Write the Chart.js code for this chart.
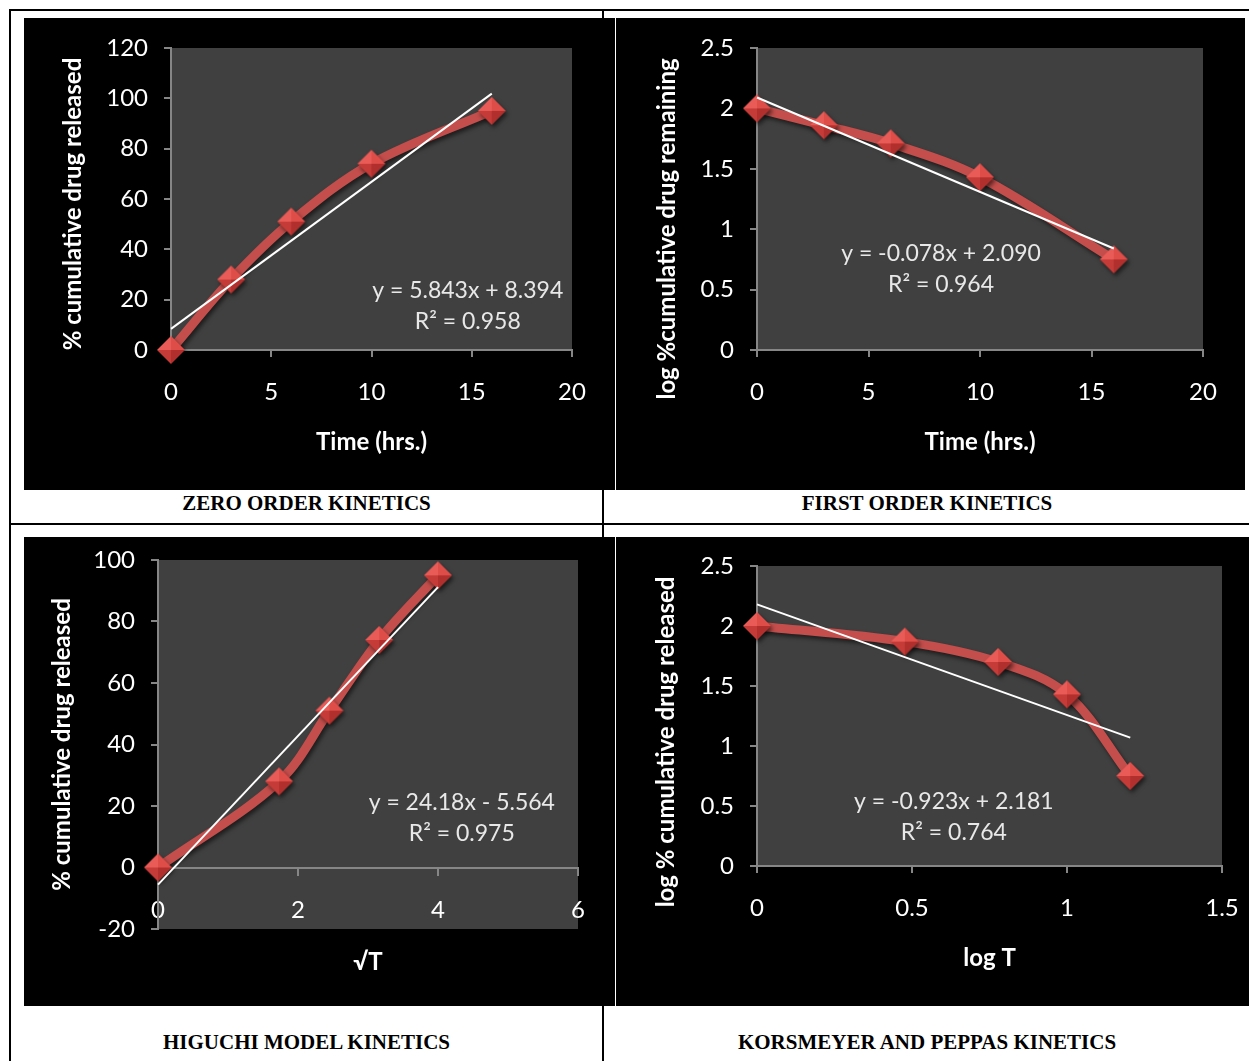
<!DOCTYPE html>
<html>
<head>
<meta charset="utf-8">
<script src="https://cdn.jsdelivr.net/npm/chart.js@4.4.1/dist/chart.umd.min.js"></script>
<style>
body { margin: 0; background: #fff; width: 1249px; height: 1061px; position: relative; overflow: hidden; }
.rule { position: absolute; background: #000; }
.panel { position: absolute; background: #000; }
.cap { position: absolute; font-family: "Liberation Serif", "Times New Roman", serif; font-weight: bold;
       font-size: 21px; line-height: 21px; text-align: center; color: #000; white-space: nowrap; }
</style>
</head>
<body>
<div class="rule" style="left:9px;top:9px;width:1240px;height:2px"></div>
<div class="rule" style="left:9px;top:9px;width:2px;height:1052px"></div>
<div class="rule" style="left:602px;top:9px;width:2px;height:1052px"></div>
<div class="rule" style="left:9px;top:523px;width:1240px;height:2px"></div>

<div class="panel" style="left:24px;top:18px;width:591px;height:472px"><canvas id="zeroChart" width="591" height="472"></canvas></div>
<div class="panel" style="left:616px;top:18px;width:629px;height:472px"><canvas id="firstChart" width="629" height="472"></canvas></div>
<div class="panel" style="left:24px;top:537px;width:591px;height:469px"><canvas id="higuchiChart" width="591" height="469"></canvas></div>
<div class="panel" style="left:616px;top:537px;width:633px;height:469px"><canvas id="kpChart" width="633" height="469"></canvas></div>

<div class="cap" style="left:11px;top:493px;width:591px">ZERO ORDER KINETICS</div>
<div class="cap" style="left:604px;top:493px;width:646px">FIRST ORDER KINETICS</div>
<div class="cap" style="left:11px;top:1032px;width:591px">HIGUCHI MODEL KINETICS</div>
<div class="cap" style="left:604px;top:1032px;width:646px">KORSMEYER AND PEPPAS KINETICS</div>

<script>
// data
const timeHrs = [0, 3, 6, 10, 16];
const cumReleased = [0, 28, 51, 74, 95];
const logRemaining = [2.0, 1.86, 1.71, 1.43, 0.75];
const sqrtTime = [0, 1.73, 2.45, 3.16, 4.0];
const logTime = [0, 0.477, 0.778, 1.0, 1.204];
const logReleased = [2.0, 1.87, 1.70, 1.43, 0.75];

// linear trendlines (end points)
const zeroTrendX = [0, 16];
const zeroTrendY = [8.39, 101.88];
const firstTrendX = [0, 16];
const firstTrendY = [2.09, 0.84];
const higuchiTrendX = [0, 4];
const higuchiTrendY = [-5.56, 91.16];
const kpTrendX = [0, 1.204];
const kpTrendY = [2.18, 1.07];

const zeroEq = ["y = 5.843x + 8.394", "R² = 0.958"];
const firstEq = ["y = -0.078x + 2.090", "R² = 0.964"];
const higuchiEq = ["y = 24.18x - 5.564", "R² = 0.975"];
const kpEq = ["y = -0.923x + 2.181", "R² = 0.764"];

const axisGrey = '#868686';
const titleFont = { family: 'Lato', size: 24, weight: 'bold' };

function toPoints(xs, ys) {
    return xs.map((x, i) => ({ x: x, y: ys[i] }));
}

function diamondImage(r) {
    const c = document.createElement('canvas');
    const s = 2 * r + 2;
    c.width = s; c.height = s;
    const g = c.getContext('2d');
    const m = s / 2;
    const faces = [
        [[m - r, m], [m, m - r], '#E95B56'],
        [[m, m - r], [m + r, m], '#DE4D48'],
        [[m + r, m], [m, m + r], '#B1302D'],
        [[m, m + r], [m - r, m], '#C43B38']
    ];
    faces.forEach(f => {
        g.beginPath();
        g.moveTo(m, m);
        g.lineTo(f[0][0], f[0][1]);
        g.lineTo(f[1][0], f[1][1]);
        g.closePath();
        g.fillStyle = f[2];
        g.fill();
    });
    return c;
}
const marker = diamondImage(14);

const plotBg = {
    id: 'plotBg',
    beforeDraw(chart) {
        const ctx = chart.ctx, a = chart.chartArea;
        ctx.save();
        ctx.fillStyle = '#000';
        ctx.fillRect(0, 0, chart.width, chart.height);
        ctx.fillStyle = '#404040';
        ctx.fillRect(a.left, a.top, a.right - a.left, a.bottom - a.top);
        ctx.restore();
    }
};

const lineShadow = {
    id: 'lineShadow',
    beforeDatasetDraw(chart, args) {
        if (args.index !== 0) return;
        const ctx = chart.ctx;
        ctx.save();
        ctx.shadowColor = 'rgba(0,0,0,0.55)';
        ctx.shadowBlur = 4;
        ctx.shadowOffsetX = 2;
        ctx.shadowOffsetY = 3;
    },
    afterDatasetDraw(chart, args) {
        if (args.index !== 0) return;
        chart.ctx.restore();
    }
};

// trendline equation + vertical axis title (Excel places it off-centre)
const labels = {
    id: 'labels',
    afterDatasetsDraw(chart, args, opts) {
        const ctx = chart.ctx;
        const px = chart.scales.x.getPixelForValue(opts.eqX);
        const py = chart.scales.y.getPixelForValue(opts.eqY);
        ctx.save();
        ctx.fillStyle = '#e8e8e8';
        ctx.font = '23px Lato';
        ctx.textAlign = 'center';
        ctx.textBaseline = 'middle';
        opts.eq.forEach((t, i) => ctx.fillText(t, px, py + i * 31));

        ctx.translate(opts.yTitleX, opts.yTitleY);
        ctx.rotate(-Math.PI / 2);
        ctx.fillStyle = '#fff';
        ctx.font = 'bold 24px Lato';
        ctx.fillText(opts.yTitle, 0, 0);
        ctx.restore();
    }
};

function axis(min, max, step, title) {
    return {
        type: 'linear', min: min, max: max,
        ticks: { stepSize: step, color: '#fff', font: { family: 'Lato', size: 24 }, maxRotation: 0, autoSkip: false,
                 callback: v => String(Number(v.toFixed(2))) },
        grid: { display: true, drawOnChartArea: false, drawTicks: true, tickLength: 7, color: axisGrey, lineWidth: 2 },
        border: { display: true, color: axisGrey, width: 2 },
        title: { display: !!title, text: title, color: '#fff', font: titleFont }
    };
}

function drawPanel(id, p) {
    const xAx = axis(p.xMin, p.xMax, p.xStep, p.xTitle);
    xAx.ticks.padding = 21;
    xAx.title.padding = { top: 0, bottom: p.xTitlePad };
    xAx.afterFit = s => { s.height = p.bottom; s.paddingLeft = 0; s.paddingRight = 0; };
    const yAx = axis(p.yMin, p.yMax, p.yStep, null);
    yAx.ticks.padding = 16;
    yAx.afterFit = s => { s.width = p.left; s.paddingTop = 0; s.paddingBottom = 0; };

    const scales = { x: xAx, y: yAx };
    if (p.crossAtZero) {
        // tick labels sit on the y = 0 line, axis title stays at the bottom
        xAx.position = { y: 0 };
        xAx.title.display = false;
        xAx.afterFit = s => { s.paddingLeft = 0; s.paddingRight = 0; };
        scales.x2 = {
            type: 'linear', position: 'bottom', min: p.xMin, max: p.xMax,
            ticks: { display: false }, grid: { display: false }, border: { display: false },
            title: { display: true, text: p.xTitle, color: '#fff', font: titleFont,
                     padding: { top: 0, bottom: p.xTitlePad } },
            afterFit: s => { s.height = p.bottom; s.paddingLeft = 0; s.paddingRight = 0; }
        };
    }

    new Chart(document.getElementById(id), {
        type: 'line',
        data: {
            datasets: [{
                data: toPoints(p.xs, p.ys),
                borderColor: '#C44E4B',
                borderWidth: 9,
                tension: 0.35,
                pointStyle: marker,
                pointRadius: 14,
                clip: false,
                order: 1
            }, {
                data: toPoints(p.trendX, p.trendY),
                borderColor: '#ffffff',
                borderWidth: 2,
                pointRadius: 0,
                tension: 0,
                clip: false,
                order: 0
            }]
        },
        options: {
            responsive: false,
            animation: false,
            layout: { padding: { left: 0, top: p.top, right: p.right, bottom: 0 } },
            scales: scales,
            plugins: {
                legend: { display: false },
                tooltip: { enabled: false },
                labels: { eq: p.eq, eqX: p.eqX, eqY: p.eqY, yTitle: p.yTitle, yTitleX: p.yTitleX, yTitleY: p.yTitleY }
            }
        },
        plugins: [plotBg, lineShadow, labels]
    });
}

drawPanel('zeroChart', {
    xs: timeHrs, ys: cumReleased, trendX: zeroTrendX, trendY: zeroTrendY, eq: zeroEq, eqX: 14.8, eqY: 23.8,
    xMin: 0, xMax: 20, xStep: 5, yMin: 0, yMax: 120, yStep: 20,
    xTitle: 'Time (hrs.)', yTitle: '% cumulative drug released', yTitleX: 49, yTitleY: 186,
    left: 147, top: 30, right: 43, bottom: 140, xTitlePad: 33
});
drawPanel('firstChart', {
    xs: timeHrs, ys: logRemaining, trendX: firstTrendX, trendY: firstTrendY, eq: firstEq, eqX: 8.25, eqY: 0.80,
    xMin: 0, xMax: 20, xStep: 5, yMin: 0, yMax: 2.5, yStep: 0.5,
    xTitle: 'Time (hrs.)', yTitle: 'log %cumulative drug remaining', yTitleX: 51, yTitleY: 211,
    left: 141, top: 30, right: 42, bottom: 140, xTitlePad: 33
});
drawPanel('higuchiChart', {
    xs: sqrtTime, ys: cumReleased, trendX: higuchiTrendX, trendY: higuchiTrendY, eq: higuchiEq, eqX: 4.34, eqY: 21.0,
    xMin: 0, xMax: 6, xStep: 2, yMin: -20, yMax: 100, yStep: 20,
    xTitle: '√T', yTitle: '% cumulative drug released', yTitleX: 38.5, yTitleY: 207.5, crossAtZero: true,
    left: 134, top: 21, right: 37, bottom: 77, xTitlePad: 29
});
drawPanel('kpChart', {
    xs: logTime, ys: logReleased, trendX: kpTrendX, trendY: kpTrendY, eq: kpEq, eqX: 0.635, eqY: 0.533,
    xMin: 0, xMax: 1.5, xStep: 0.5, yMin: 0, yMax: 2.5, yStep: 0.5,
    xTitle: 'log T', yTitle: 'log % cumulative drug released', yTitleX: 50, yTitleY: 205,
    left: 141, top: 29, right: 27, bottom: 140, xTitlePad: 33
});
</script>
</body>
</html>
